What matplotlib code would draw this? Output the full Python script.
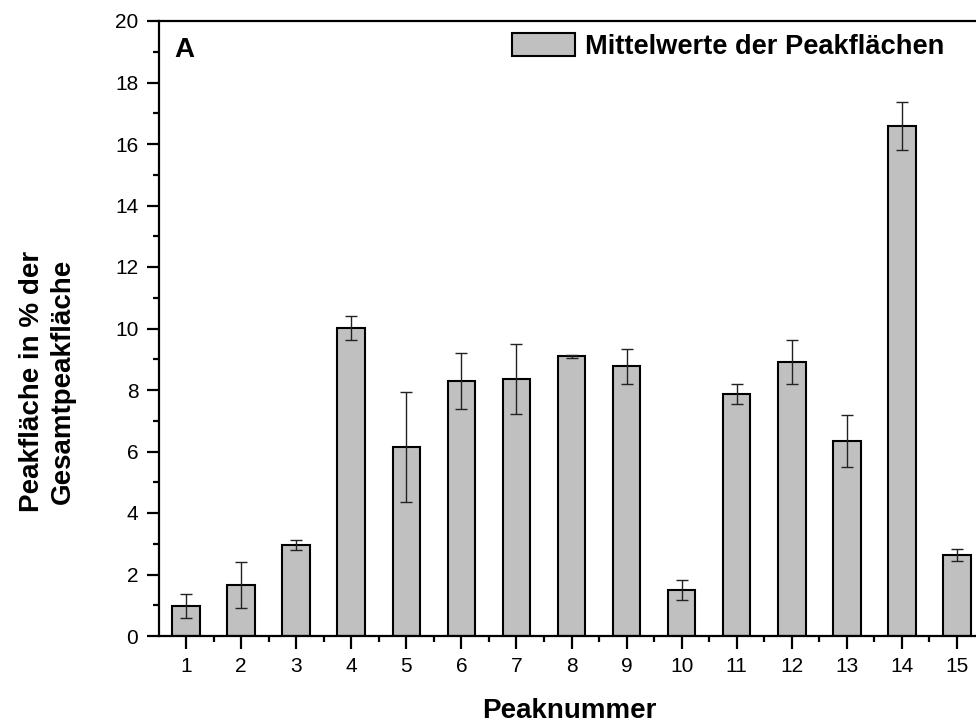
import matplotlib.pyplot as plt
import numpy as np

plt.rcParams['font.family'] = ['Liberation Sans', 'DejaVu Sans']

# Peak numbers and mean areas (% of total peak area)
peaks = np.arange(1, 16)
means = [0.97, 1.66, 2.96, 10.02, 6.15, 8.30, 8.36, 9.10, 8.77, 1.50,
         7.87, 8.90, 6.34, 16.58, 2.63]
errors = [0.38, 0.76, 0.17, 0.38, 1.80, 0.91, 1.13, 0.05, 0.56, 0.33,
          0.33, 0.72, 0.85, 0.78, 0.20]

fig = plt.figure(figsize=(9.76, 7.24), dpi=100)
# axes extends slightly past the right edge like the original
ax = fig.add_axes([158.5 / 976, 1 - 636 / 724, 826 / 976, 615 / 724])

ax.bar(peaks, means, width=0.5, color='#c0c0c0', edgecolor='black',
       linewidth=1.5, label='Mittelwerte der Peakflächen', zorder=2)
ax.errorbar(peaks, means, yerr=errors, fmt='none', ecolor='#222222',
            elinewidth=1.0, capsize=4, capthick=1.0, zorder=3)

ax.set_xlim(0.5, 15.5)
ax.set_ylim(0, 20)
ax.set_xticks(peaks)
ax.set_xticks(np.arange(1.5, 15.5, 1), minor=True)
ax.set_yticks(np.arange(0, 21, 2))
ax.set_yticks(np.arange(1, 20, 2), minor=True)

for s in ax.spines.values():
    s.set_linewidth(1.6)

ax.tick_params(which='major', direction='out', length=9, width=1.6,
               labelsize=15)
ax.tick_params(axis='x', which='major', pad=6)
ax.tick_params(axis='y', which='major', pad=5.5)
ax.tick_params(which='minor', direction='out', length=4.5, width=1.6)

ax.set_xlabel('Peaknummer', fontsize=20, fontweight='bold', va='baseline')
ax.xaxis.set_label_coords(0.4976, -0.1333)
ax.set_ylabel('Peakfläche in % der\nGesamtpeakfläche', fontsize=20,
              fontweight='bold', ha='center', va='center', linespacing=1.25)
ax.yaxis.set_label_coords(-0.1340, 0.4146)

ax.text(0.0188, 0.9415, 'A', transform=ax.transAxes, fontsize=20,
        fontweight='bold', va='baseline', ha='left')

ax.legend(loc='upper left', bbox_to_anchor=(0.428, 0.981), frameon=False,
          prop={'size': 19.6, 'weight': 'bold'}, handlelength=2.31,
          handleheight=0.95, handletextpad=0.38, borderaxespad=0,
          borderpad=0)

fig.savefig('out.png', dpi=100)
